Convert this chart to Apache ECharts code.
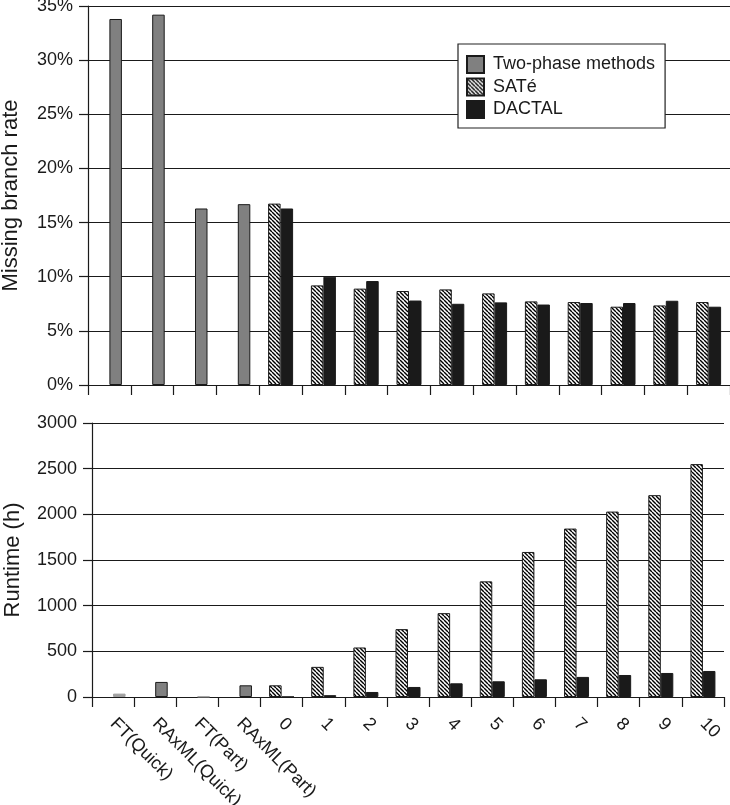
<!DOCTYPE html>
<html><head><meta charset="utf-8">
<script src="https://cdn.jsdelivr.net/npm/echarts@6/dist/echarts.min.js"></script>
<style>html,body{margin:0;padding:0;background:#fff}#c{width:730px;height:805px}</style>
</head><body><div id="c"></div>
<script>
const categories = ['FT(Quick)','RAxML(Quick)','FT(Part)','RAxML(Part)','0','1','2','3','4','5','6','7','8','9','10'];
// Missing branch rate (%)
const twoPhaseRate = [33.8, 34.2, 16.3, 16.7, '-', '-', '-', '-', '-', '-', '-', '-', '-', '-', '-'];
const sateRate     = ['-', '-', '-', '-', 16.75, 9.2, 8.9, 8.68, 8.83, 8.46, 7.72, 7.66, 7.23, 7.35, 7.66];
const dactalRate   = ['-', '-', '-', '-', 16.3, 10.0, 9.6, 7.8, 7.5, 7.63, 7.43, 7.57, 7.57, 7.78, 7.23];
// Runtime (h)
const twoPhaseTime = [37, 165, 5, 128, '-', '-', '-', '-', '-', '-', '-', '-', '-', '-', '-'];
const sateTime     = ['-', '-', '-', '-', 128, 330, 542, 743, 918, 1266, 1588, 1844, 2030, 2210, 2550];
const dactalTime   = ['-', '-', '-', '-', 2, 20, 55, 110, 150, 172, 194, 220, 241, 263, 285];

function hatch(){
  const s = 4, cv = document.createElement('canvas');
  cv.width = s; cv.height = s;
  const g = cv.getContext('2d');
  g.fillStyle = '#fff'; g.fillRect(0,0,s,s);
  g.strokeStyle = '#000'; g.lineWidth = 1.4;
  for (const k of [-s, 0, s]) { g.beginPath(); g.moveTo(k, 0); g.lineTo(k + s, s); g.stroke(); }
  return {image: cv, repeat: 'repeat'};
}
const hatchFill = hatch();
const GRAY = '#808080', BLACK = '#1a1a1a', LINE = '#1a1a1a';
const font = 'Liberation Sans, Arial, sans-serif';

function lightFirst(arr){
  return arr.map((v,i)=> (i===0||i===2) ? {value:v, itemStyle:{color:'#a0a0a0', borderColor:'#a0a0a0'}} : v);
}

const chart = echarts.init(document.getElementById('c'), null, {renderer:'canvas'});
const common = {type:'bar', barWidth:12.5, barGap:'0%'};
const xAxisBase = {
  type:'category', data:categories, boundaryGap:true,
  axisLine:{lineStyle:{color:LINE, width:1.2}},
  axisTick:{show:true, length:10, interval:0, lineStyle:{color:LINE, width:1.2}},
};
const yAxisBase = {
  type:'value', nameLocation:'middle',
  nameTextStyle:{fontSize:22, color:'#1a1a1a', fontFamily:font},
  axisLine:{show:true, lineStyle:{color:LINE, width:1.2}},
  axisTick:{show:true, length:9, lineStyle:{color:LINE, width:1.2}},
  splitLine:{lineStyle:{color:LINE, width:1.2}},
  axisLabel:{fontSize:18, color:'#1a1a1a', fontFamily:font, margin:15}
};
chart.setOption({
  animation:false,
  backgroundColor:'#fff',
  textStyle:{fontFamily:font},
  legend:{
    data:['Two-phase methods','SATé','DACTAL'],
    orient:'vertical', left:458, top:44,
    padding:[11,10,9,8], itemGap:3.5, itemWidth:17, itemHeight:17,
    backgroundColor:'#fff', borderColor:'#222', borderWidth:1.2,
    textStyle:{fontSize:18, lineHeight:17, color:'#1a1a1a', fontFamily:font, padding:[0,0,0,4]},
    icon:'rect'
  },
  grid:[
    {left:88, top:6, width:642, height:379, outerBoundsMode:'none', containLabel:false},
    {left:92, top:423, width:632, height:274, outerBoundsMode:'none', containLabel:false}
  ],
  xAxis:[
    Object.assign({}, xAxisBase, {gridIndex:0, axisLabel:{show:false}}),
    Object.assign({}, xAxisBase, {gridIndex:1, axisLabel:{show:true, interval:0, rotate:-45, fontSize:18, color:'#1a1a1a', fontFamily:font, margin:24}})
  ],
  yAxis:[
    Object.assign({}, yAxisBase, {gridIndex:0, min:0, max:35, interval:5, name:'Missing branch rate', nameGap:66,
      axisLabel:Object.assign({}, yAxisBase.axisLabel, {formatter:(v)=>v+'%'})}),
    Object.assign({}, yAxisBase, {gridIndex:1, min:0, max:3000, interval:500, name:'Runtime (h)', nameGap:68,
      axisLabel:Object.assign({}, yAxisBase.axisLabel, {formatter:(v)=>String(v)})})
  ],
  series:[
    Object.assign({}, common, {name:'SATé', xAxisIndex:0, yAxisIndex:0, stack:'a', data:sateRate,
      itemStyle:{color:hatchFill, borderColor:LINE, borderWidth:1}}),
    Object.assign({}, common, {name:'Two-phase methods', xAxisIndex:0, yAxisIndex:0, stack:'b', data:twoPhaseRate,
      itemStyle:{color:GRAY, borderColor:LINE, borderWidth:1}}),
    Object.assign({}, common, {name:'DACTAL', xAxisIndex:0, yAxisIndex:0, stack:'b', data:dactalRate,
      itemStyle:{color:BLACK, borderColor:LINE, borderWidth:1}}),
    Object.assign({}, common, {name:'SATé', xAxisIndex:1, yAxisIndex:1, stack:'a2', data:sateTime,
      itemStyle:{color:hatchFill, borderColor:LINE, borderWidth:1}}),
    Object.assign({}, common, {name:'Two-phase methods', xAxisIndex:1, yAxisIndex:1, stack:'b2', data:lightFirst(twoPhaseTime),
      itemStyle:{color:GRAY, borderColor:LINE, borderWidth:1}}),
    Object.assign({}, common, {name:'DACTAL', xAxisIndex:1, yAxisIndex:1, stack:'b2', data:dactalTime,
      itemStyle:{color:BLACK, borderColor:LINE, borderWidth:1}})
  ]
});
</script></body></html>
